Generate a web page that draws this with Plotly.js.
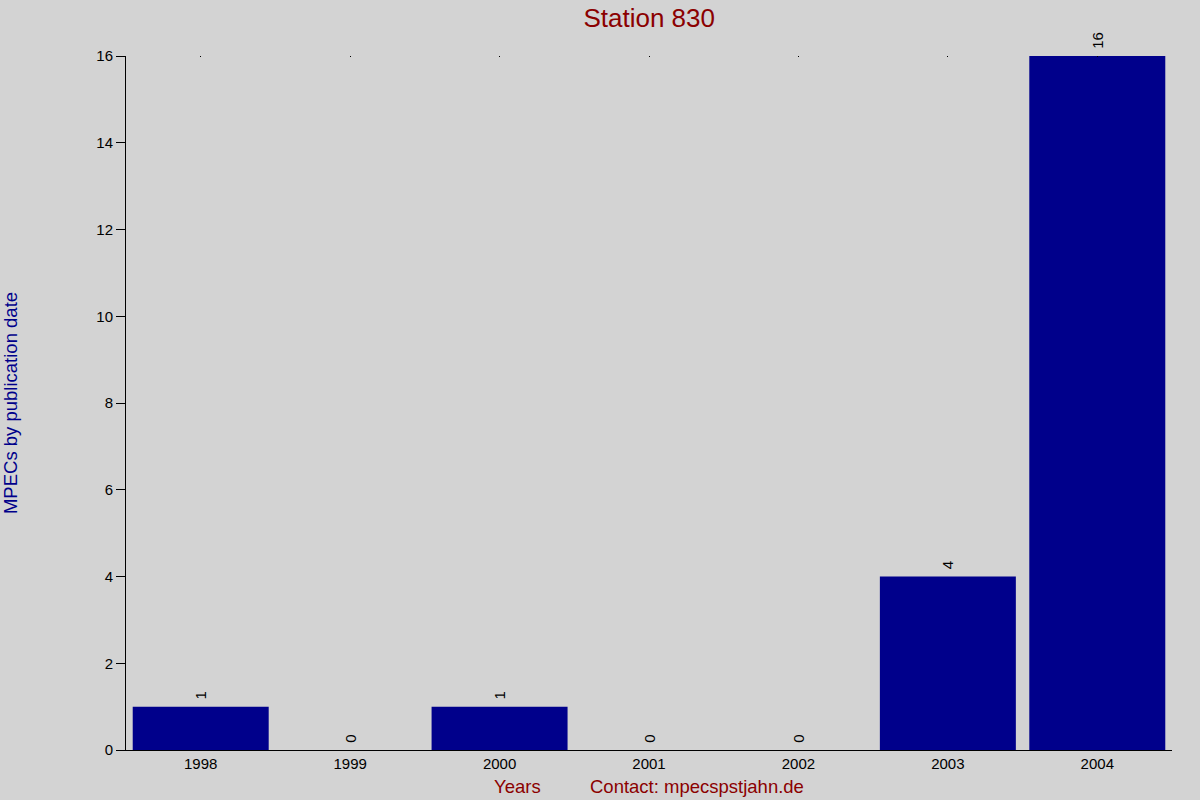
<!DOCTYPE html>
<html>
<head>
<meta charset="utf-8">
<script src="https://cdn.plot.ly/plotly-3.0.1.min.js"></script>
<style>
  html, body { margin: 0; padding: 0; background: #d3d3d3; }
  #plot { width: 1200px; height: 800px; }
</style>
</head>
<body>
<div id="plot"></div>
<script>
// MPECs per year for station 830
const years = ['1998', '1999', '2000', '2001', '2002', '2003', '2004'];
const counts = [1, 0, 1, 0, 0, 4, 16];

const barTrace = {
    type: 'bar',
    x: years,
    y: counts,
    marker: { color: '#00008b' },
    // a leading non-breaking space lifts the rotated label a little off the bar
    text: counts.map(c => '\u00a0' + c),
    textposition: 'outside',
    textangle: -90,
    textfont: { family: 'Liberation Sans, Arial, sans-serif', size: 15, color: '#000' },
    cliponaxis: false,
    hoverinfo: 'x+y'
};

const layout = {
    width: 1200,
    height: 800,
    paper_bgcolor: '#d3d3d3',
    plot_bgcolor: '#d3d3d3',
    font: { family: 'Liberation Sans, Arial, sans-serif', size: 15, color: '#000' },
    margin: { l: 126, r: 28, t: 56, b: 50 },
    bargap: 0.09,
    showlegend: false,
    title: {
        text: 'Station 830',
        font: { size: 26, color: '#8b0000' },
        x: 0.541, xanchor: 'center',
        y: 0.978, yanchor: 'middle'
    },
    xaxis: {
        type: 'category',
        showline: true,
        linecolor: '#000',
        linewidth: 1,
        ticks: '',
        showgrid: false,
        zeroline: false,
        tickfont: { size: 15 }
    },
    xaxis2: {
        type: 'category',
        overlaying: 'x',
        matches: 'x',
        side: 'top',
        showline: false,
        ticks: 'inside',
        ticklen: 1,
        tickcolor: '#000',
        showticklabels: false,
        showgrid: false,
        zeroline: false
    },
    yaxis: {
        range: [0, 16],
        dtick: 2,
        showline: true,
        linecolor: '#000',
        linewidth: 1,
        ticks: 'outside',
        ticklen: 9,
        tickcolor: '#000',
        showgrid: false,
        zeroline: false,
        tickfont: { size: 15 },
        title: {
            text: 'MPECs by publication date',
            font: { size: 18.5, color: '#00008b' },
            standoff: 85
        }
    },
    annotations: [
        {
            text: 'Years', xref: 'paper', yref: 'paper',
            x: (517 - 126) / 1046, y: -0.052, xanchor: 'center', yanchor: 'middle',
            showarrow: false, font: { size: 18.5, color: '#8b0000' }
        },
        {
            text: 'Contact: mpecspstjahn.de', xref: 'paper', yref: 'paper',
            x: (697 - 126) / 1046, y: -0.052, xanchor: 'center', yanchor: 'middle',
            showarrow: false, font: { size: 18.5, color: '#8b0000' }
        }
    ]
};

// invisible companion trace so the top tick marks get drawn
const topTrace = {
    type: 'bar', x: years, y: counts, xaxis: 'x2',
    marker: { color: 'rgba(0,0,0,0)' }, hoverinfo: 'skip', showlegend: false
};

Plotly.newPlot('plot', [barTrace, topTrace], layout, { displayModeBar: false, responsive: false });
</script>
</body>
</html>
